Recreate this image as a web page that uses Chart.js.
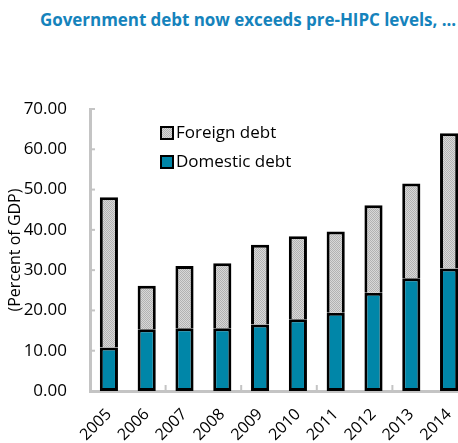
<!DOCTYPE html>
<html>
<head>
<meta charset="utf-8">
<script src="https://cdn.jsdelivr.net/npm/chart.js@4.4.1/dist/chart.umd.min.js"></script>
<style>
  body { margin: 0; width: 458px; height: 443px; overflow: hidden; background: #fff; position: relative; }
  #title { position: absolute; left: 40px; top: 8px; font: bold 17px "Open Sans", sans-serif; color: #1583bc; white-space: nowrap; letter-spacing: -0.05px; }
  canvas { position: absolute; left: 0; top: 0; }
</style>
</head>
<body>
<div id="title">Government debt now exceeds pre-HIPC levels, ...</div>
<canvas id="myChart" width="470" height="443"></canvas>
<script>
// data (percent of GDP)
const years = ['2005', '2006', '2007', '2008', '2009', '2010', '2011', '2012', '2013', '2014'];
const domesticDebt = [10.8, 15.3, 15.6, 15.6, 16.5, 17.8, 19.4, 24.4, 28.0, 30.4];
const foreignDebt = [37.3, 10.8, 15.4, 16.1, 19.8, 20.6, 20.2, 21.7, 23.5, 33.6];
const yTicks = [0, 10, 20, 30, 40, 50, 60, 70];

const axisGray = '#c4c4c4';
const teal = '#0086a8';

// dotted grey fill for the foreign part
const pc = document.createElement('canvas');
pc.width = 2; pc.height = 2;
const pctx = pc.getContext('2d');
pctx.fillStyle = '#d8d8d8';
pctx.fillRect(0, 0, 2, 2);
pctx.fillStyle = '#b2b2b2';
pctx.fillRect(0, 0, 1, 1);
pctx.fillRect(1, 1, 1, 1);
const ctx = document.getElementById('myChart').getContext('2d');
const hatch = ctx.createPattern(pc, 'repeat');

// small inside tick marks like the original
const insideTicks = {
    id: 'insideTicks',
    beforeDatasetsDraw(chart) {
        const c = chart.ctx, x = chart.scales.x, y = chart.scales.y;
        const a = chart.chartArea;
        c.save();
        c.strokeStyle = axisGray;
        c.lineWidth = 2;
        yTicks.forEach(v => {
            const py = y.getPixelForValue(v);
            c.beginPath(); c.moveTo(a.left, py); c.lineTo(a.left + 5, py); c.stroke();
        });
        for (let i = 1; i < years.length - 1; i += 2) {
            const px = (x.getPixelForValue(i) + x.getPixelForValue(i + 1)) / 2;
            c.beginPath(); c.moveTo(px, a.bottom); c.lineTo(px, a.bottom - 6); c.stroke();
        }
        c.restore();
    }
};

// legend inside the plot, foreign on top
const boxLegend = {
    id: 'boxLegend',
    afterDraw(chart) {
        const c = chart.ctx, a = chart.chartArea;
        const items = chart.data.datasets.slice().reverse();
        c.save();
        c.font = '17px "Open Sans", sans-serif';
        c.textBaseline = 'middle';
        items.forEach((ds, i) => {
            const bx = a.left + 71, by = a.top + 18 + i * 29;
            c.fillStyle = ds.backgroundColor;
            c.fillRect(bx, by, 12, 12);
            c.strokeStyle = '#000';
            c.lineWidth = 2;
            c.strokeRect(bx, by, 12, 12);
            c.fillStyle = '#000';
            c.fillText(ds.label, bx + 15, by + 6);
        });
        c.restore();
    }
};

const myChart = new Chart(ctx, {
    type: 'bar',
    data: {
        labels: years,
        datasets: [{
            label: 'Domestic debt',
            data: domesticDebt,
            backgroundColor: teal,
            borderColor: '#000',
            borderWidth: 3,
            borderSkipped: false
        }, {
            label: 'Foreign debt',
            data: foreignDebt,
            backgroundColor: hatch,
            borderColor: '#000',
            borderWidth: 3,
            borderSkipped: 'bottom'
        }]
    },
    options: {
        responsive: false,
        devicePixelRatio: 1,
        animation: false,
        layout: { padding: { top: 109, right: 2, left: 0, bottom: 0 } },
        datasets: { bar: { categoryPercentage: 1, barPercentage: 0.48 } },
        plugins: {
            legend: { display: false },
            tooltip: { enabled: false }
        },
        scales: {
            x: {
                stacked: true,
                grid: { display: false },
                border: { color: axisGray, width: 3 },
                ticks: {
                    color: '#000',
                    font: { family: 'Open Sans', size: 16 },
                    minRotation: 45,
                    maxRotation: 45,
                    padding: 6
                },
                afterFit(s) { s.height = 52; }
            },
            y: {
                stacked: true,
                min: 0,
                max: 70,
                grid: { display: false },
                border: { color: axisGray, width: 3 },
                ticks: {
                    stepSize: 10,
                    color: '#000',
                    font: { family: 'Open Sans', size: 17 },
                    padding: 15,
                    callback: v => v.toFixed(2)
                },
                title: {
                    display: true,
                    text: '(Percent of GDP)',
                    color: '#000',
                    font: { family: 'Open Sans', size: 16 },
                    padding: { top: 6, bottom: 0 }
                },
                afterFit(s) { s.width = 90; }
            }
        }
    },
    plugins: [insideTicks, boxLegend]
});
</script>
</body>
</html>
